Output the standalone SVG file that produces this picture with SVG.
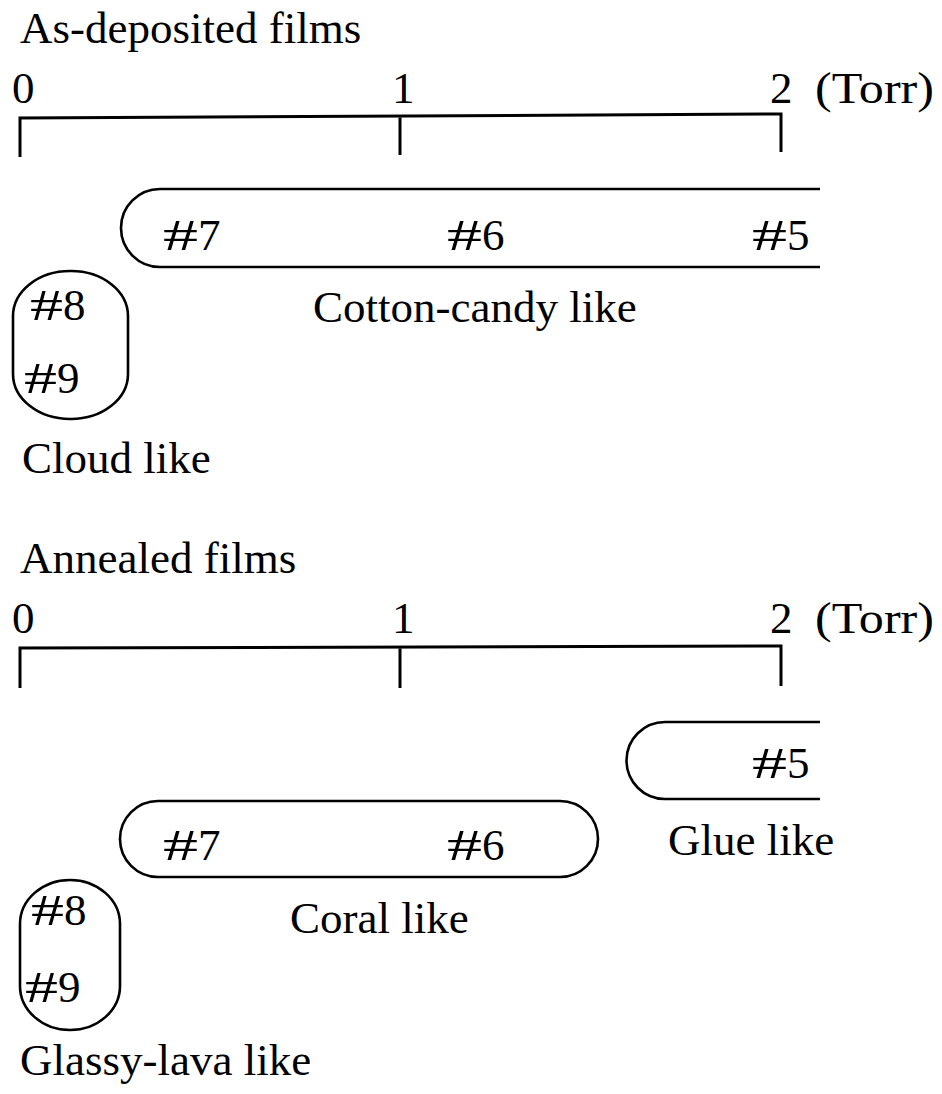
<svg xmlns="http://www.w3.org/2000/svg" width="942" height="1094" viewBox="0 0 942 1094">
<style>
text{font-family:"Liberation Serif","Times New Roman",serif;font-size:45px;fill:#000}
.ln{fill:none;stroke:#000;stroke-width:3}
.sh{fill:none;stroke:#000;stroke-width:2.6}
</style>
<rect width="942" height="1094" fill="#fff"/>
<g id="top-title"><text x="20" y="43" font-size="44">As-deposited films</text></g>
<g id="top-axis">
<path class="ln" d="M20,157 V118 L781,114 V152 M400,116 V155"/>
<text x="12" y="103">0</text><text x="392" y="103">1</text><text x="770" y="103">2</text><text x="815" y="103" textLength="119" lengthAdjust="spacingAndGlyphs">(Torr)</text>
</g>
<g id="cotton-candy">
<path class="sh" d="M820,189 H160 A39,39 0 0 0 160,267 H820"/>
<text x="163" y="250"><tspan textLength="35" lengthAdjust="spacingAndGlyphs">#</tspan>7</text>
<text x="447" y="250"><tspan textLength="35" lengthAdjust="spacingAndGlyphs">#</tspan>6</text>
<text x="752" y="250"><tspan textLength="35" lengthAdjust="spacingAndGlyphs">#</tspan>5</text>
<text x="313" y="322" font-size="46">Cotton-candy like</text>
</g>
<g id="cloud">
<rect class="sh" x="13" y="271" width="115" height="148" rx="57" ry="45"/>
<text x="30" y="320"><tspan textLength="33" lengthAdjust="spacingAndGlyphs">#</tspan>8</text>
<text x="24" y="393"><tspan textLength="33" lengthAdjust="spacingAndGlyphs">#</tspan>9</text>
<text x="22" y="473">Cloud like</text>
</g>
<g id="bottom-title"><text x="20" y="573">Annealed films</text></g>
<g id="bottom-axis">
<path class="ln" d="M20,688 V648 L781,646 V686 M400,647 V688"/>
<text x="12" y="633">0</text><text x="392" y="633">1</text><text x="770" y="633">2</text><text x="815" y="633" textLength="119" lengthAdjust="spacingAndGlyphs">(Torr)</text>
</g>
<g id="glue">
<path class="sh" d="M820,722 H665 A38,38 0 0 0 665,799 H820"/>
<text x="752" y="778"><tspan textLength="35" lengthAdjust="spacingAndGlyphs">#</tspan>5</text>
<text x="668" y="855">Glue like</text>
</g>
<g id="coral">
<rect class="sh" x="120" y="801" width="478" height="76" rx="38"/>
<text x="163" y="860"><tspan textLength="35" lengthAdjust="spacingAndGlyphs">#</tspan>7</text>
<text x="447" y="860"><tspan textLength="35" lengthAdjust="spacingAndGlyphs">#</tspan>6</text>
<text x="290" y="933">Coral like</text>
</g>
<g id="glassy-lava">
<rect class="sh" x="20" y="880" width="100" height="150" rx="50" ry="44"/>
<text x="31" y="925"><tspan textLength="33" lengthAdjust="spacingAndGlyphs">#</tspan>8</text>
<text x="25" y="1002"><tspan textLength="33" lengthAdjust="spacingAndGlyphs">#</tspan>9</text>
<text x="20" y="1075">Glassy-lava like</text>
</g>
<g id="connectors"></g>
</svg>
